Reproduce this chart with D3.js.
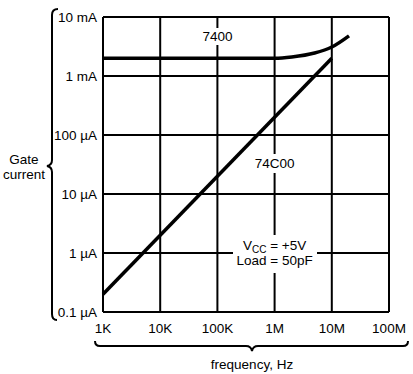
<!DOCTYPE html>
<html>
<head>
<meta charset="utf-8">
<script src="https://cdn.jsdelivr.net/npm/d3@7"></script>
<style>
  body { margin: 0; background: #fff; }
  svg { display: block; font-family: "Liberation Sans", Arial, sans-serif; }
</style>
</head>
<body>
<svg id="chart" width="413" height="374"></svg>
<script>
const freqTicks = [1e3, 1e4, 1e5, 1e6, 1e7, 1e8];
const freqLabels = ['1K', '10K', '100K', '1M', '10M', '100M'];
const currentTicks = [1e-7, 1e-6, 1e-5, 1e-4, 1e-3, 1e-2];
const currentLabels = ['0.1 µA', '1 µA', '10 µA', '100 µA', '1 mA', '10 mA'];

// 7400 (TTL) gate current
const ttlFreq = [1e3, 1e5, 1e6, 2e6, 5e6, 1e7, 2e7];
const ttlCurrent = [2e-3, 2e-3, 2e-3, 2.1e-3, 2.45e-3, 3.1e-3, 4.8e-3];
// 74C00 (CMOS) gate current
const cmosFreq = [1e3, 1e7];
const cmosCurrent = [2e-7, 2e-3];

const svg = d3.select('#chart');

const x = d3.scaleLog().domain([1e3, 1e8]).range([103, 389]);
const y = d3.scaleLog().domain([1e-7, 1e-2]).range([312, 17]);

// grid
svg.append('g')
  .selectAll('line')
  .data(freqTicks)
  .join('line')
  .attr('x1', d => x(d)).attr('x2', d => x(d))
  .attr('y1', y(1e-7)).attr('y2', y(1e-2))
  .attr('stroke', '#000').attr('stroke-width', 2);

svg.append('g')
  .selectAll('line')
  .data(currentTicks)
  .join('line')
  .attr('x1', x(1e3)).attr('x2', x(1e8))
  .attr('y1', d => y(d)).attr('y2', d => y(d))
  .attr('stroke', '#000').attr('stroke-width', 2);

// tick labels
svg.append('g')
  .selectAll('text')
  .data(currentTicks)
  .join('text')
  .attr('x', x(1e3) - 6)
  .attr('y', d => y(d) + 5)
  .attr('text-anchor', 'end')
  .attr('font-size', 13.5)
  .text((d, i) => currentLabels[i]);

svg.append('g')
  .selectAll('text')
  .data(freqTicks)
  .join('text')
  .attr('x', d => x(d))
  .attr('y', 333)
  .attr('text-anchor', 'middle')
  .attr('font-size', 13.5)
  .text((d, i) => freqLabels[i]);

// in-plot labels with white knock-outs over the grid
function label(lines, cx, cy, box) {
  svg.append('rect')
    .attr('x', box[0]).attr('y', box[1])
    .attr('width', box[2]).attr('height', box[3])
    .attr('fill', '#fff');
  lines.forEach((l, i) => {
    const t = svg.append('text')
      .attr('x', cx).attr('y', cy + i * 15)
      .attr('text-anchor', 'middle')
      .attr('font-size', 13.5);
    l.forEach(part => {
      t.append('tspan')
        .attr('baseline-shift', part.sub ? '-25%' : null)
        .attr('font-size', part.sub ? 10 : null)
        .text(part.t);
    });
  });
}

label([[{t: '7400'}]], x(1e5), 41, [x(1e5) - 3, 28, 6, 17]);
label([[{t: '74C00'}]], x(1e6), 168, [x(1e6) - 3, 154, 6, 19]);
label([[{t: 'V'}, {t: 'CC', sub: true}, {t: ' = +5V'}], [{t: 'Load = 50pF'}]],
  x(1e6), 250, [233, 235, 84, 38]);

// curves
const line = d3.line().x(d => x(d[0])).y(d => y(d[1])).curve(d3.curveMonotoneX);

svg.append('path')
  .datum(ttlFreq.map((f, i) => [f, ttlCurrent[i]]))
  .attr('d', line)
  .attr('fill', 'none').attr('stroke', '#000').attr('stroke-width', 3.5);

svg.append('path')
  .datum(cmosFreq.map((f, i) => [f, cmosCurrent[i]]))
  .attr('d', line)
  .attr('fill', 'none').attr('stroke', '#000').attr('stroke-width', 3.5);

// braces
svg.append('path')
  .attr('d', 'M58,9 Q52,9 52,15 L52,160 Q52,165 47,166 Q52,167 52,172 L52,314 Q52,320 57,320')
  .attr('fill', 'none').attr('stroke', '#000').attr('stroke-width', 2);

svg.append('path')
  .attr('d', 'M95,341 Q95,346 100,346 L246,346 Q251,346 252,351 Q253,346 258,346 L403,346 Q408,346 408,341')
  .attr('fill', 'none').attr('stroke', '#000').attr('stroke-width', 2);

// axis titles
svg.append('text')
  .attr('x', 24).attr('y', 164)
  .attr('text-anchor', 'middle')
  .attr('font-size', 13.5)
  .selectAll('tspan')
  .data(['Gate', 'current'])
  .join('tspan')
  .attr('x', 24)
  .attr('dy', (d, i) => i === 0 ? 0 : 15)
  .text(d => d);

svg.append('text')
  .attr('x', 252).attr('y', 369)
  .attr('text-anchor', 'middle')
  .attr('font-size', 13.5)
  .text('frequency, Hz');
</script>
</body>
</html>
